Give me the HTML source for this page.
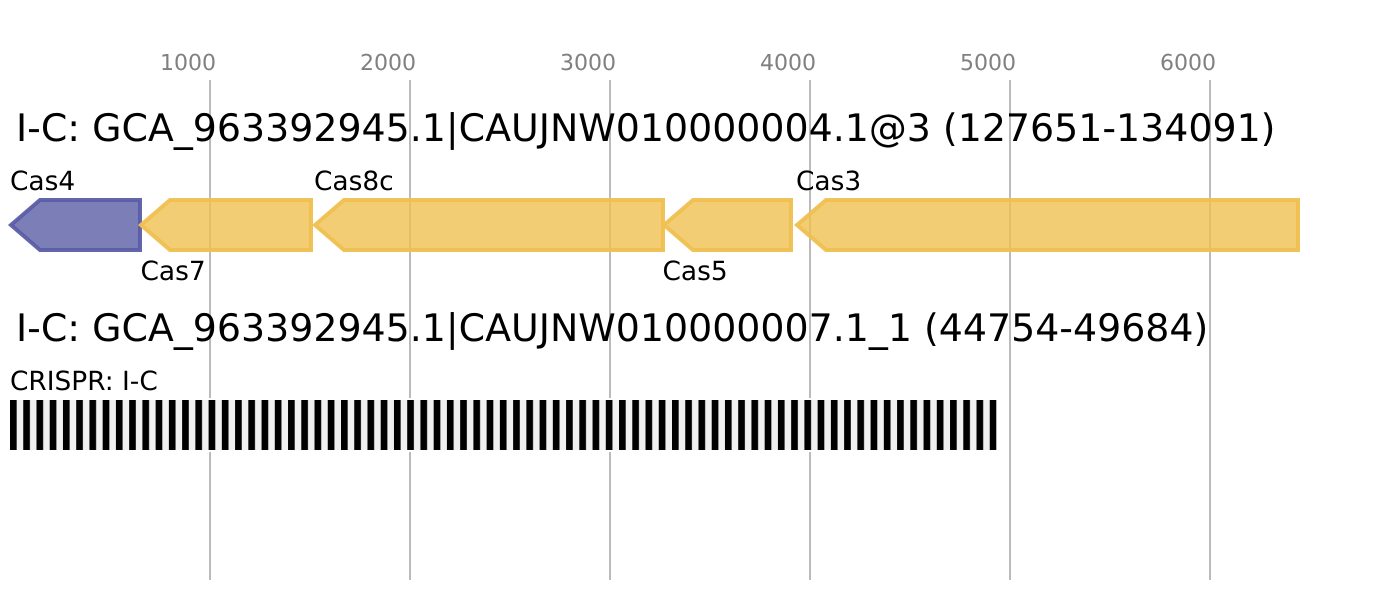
<!DOCTYPE html>
<html>
<head>
<meta charset="utf-8">
<style>
html,body{margin:0;padding:0;background:#fff;width:1388px;height:600px;overflow:hidden}
svg{display:block}
text{font-family:"DejaVu Sans",sans-serif;text-rendering:geometricPrecision}
.ax{font-size:22px;fill:#808080}
.t{font-size:37.9px;fill:#000}
.l{font-size:26.4px;fill:#000}
.y{fill:#efc050;fill-opacity:.8;stroke:#efc050;stroke-width:4;stroke-opacity:.95}
.b{fill:#5b5ea6;fill-opacity:.8;stroke:#5b5ea6;stroke-width:4;stroke-opacity:.95}
</style>
</head>
<body>
<svg width="1388" height="600" viewBox="0 0 1388 600" xmlns="http://www.w3.org/2000/svg">
<defs>
<pattern id="c" patternUnits="userSpaceOnUse" x="10" y="400" width="13.24" height="50">
<rect width="13.24" height="50" fill="#f0f0f0"/>
<rect width="6.67" height="50" fill="#000"/>
</pattern>
</defs>
<rect width="1388" height="600" fill="#fff"/>
<g stroke="#bbb" stroke-width="2">
<line x1="210" y1="80" x2="210" y2="580"/>
<line x1="410" y1="80" x2="410" y2="580"/>
<line x1="610" y1="80" x2="610" y2="580"/>
<line x1="810" y1="80" x2="810" y2="580"/>
<line x1="1010" y1="80" x2="1010" y2="580"/>
<line x1="1210" y1="80" x2="1210" y2="580"/>
</g>
<g class="ax">
<text x="160" y="70">1000</text>
<text x="360" y="70">2000</text>
<text x="560" y="70">3000</text>
<text x="760" y="70">4000</text>
<text x="960" y="70">5000</text>
<text x="1160" y="70">6000</text>
</g>
<text class="t" x="16" y="141">I-C: GCA_963392945.1|CAUJNW010000004.1@3 (127651-134091)</text>
<text class="t" x="16" y="341">I-C: GCA_963392945.1|CAUJNW010000007.1_1 (44754-49684)</text>
<polygon class="b" points="11,225 40,200 140,200 140,250 40,250"/>
<polygon class="y" points="141,225 170,200 311,200 311,250 170,250"/>
<polygon class="y" points="315,225 344,200 663,200 663,250 344,250"/>
<polygon class="y" points="664,225 693,200 791,200 791,250 693,250"/>
<polygon class="y" points="797,225 826,200 1298,200 1298,250 826,250"/>
<text class="l" x="10" y="190">Cas4</text>
<text class="l" x="140.5" y="280">Cas7</text>
<text class="l" x="314" y="190">Cas8c</text>
<text class="l" x="662.5" y="280">Cas5</text>
<text class="l" x="796" y="190">Cas3</text>
<text class="l" x="10" y="390">CRISPR: I-C</text>
<rect x="8" y="398" width="990.4" height="54" fill="#fff"/>
<rect x="10" y="400" width="986.4" height="50" fill="url(#c)"/>
</svg>
</body>
</html>
